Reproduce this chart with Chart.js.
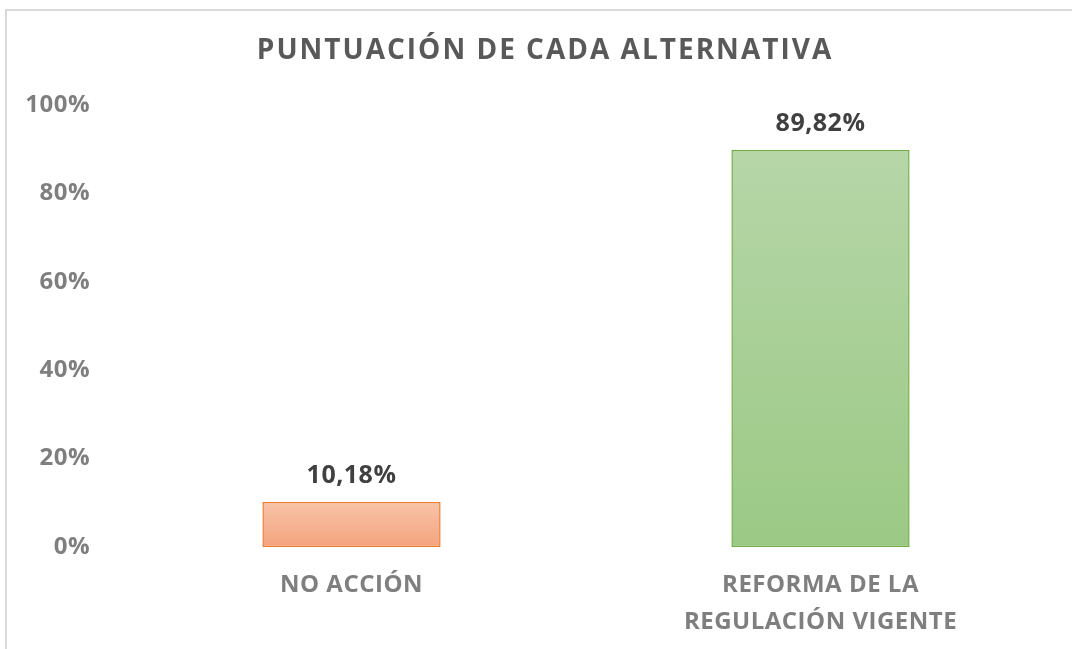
<!DOCTYPE html>
<html>
<head>
<meta charset="utf-8">
<script src="https://cdn.jsdelivr.net/npm/chart.js@4/dist/chart.umd.min.js"></script>
<style>
  html, body { margin: 0; padding: 0; background: #fff; }
  #wrap { position: relative; width: 1072px; height: 649px; overflow: hidden; }
  #frame { position: absolute; left: 5px; top: 9px; width: 1100px; height: 700px;
           border-left: 2px solid #d9d9d9; border-top: 2px solid #d9d9d9; }
  canvas { position: absolute; left: 0; top: 0; }
</style>
</head>
<body>
<div id="wrap">
  <div id="frame"></div>
  <canvas id="scoreChart" width="1072" height="649"></canvas>
</div>
<script>
'use strict';

// --- datos ---
const CATEGORIES = [['NO ACCIÓN'], ['REFORMA DE LA', 'REGULACIÓN VIGENTE']];
const SCORES = [10.18, 89.82];
const Y_TICKS = [0, 20, 40, 60, 80, 100];
const TITLE = 'PUNTUACIÓN DE CADA ALTERNATIVA';

// colores de las barras (arriba -> abajo)
const TOP_COLORS = ['#f8c3a8', '#b6d6a8'];
const BOTTOM_COLORS = ['#f4a47e', '#9bc985'];
const BORDER_COLORS = ['#ed7d31', '#70ad47'];

const FONT = "'Open Sans', 'Liberation Sans', sans-serif";

function barGradient(ctx) {
  const chart = ctx.chart;
  const i = ctx.dataIndex;
  if (!chart.chartArea) return BOTTOM_COLORS[i];
  const y = chart.scales.y;
  const top = y.getPixelForValue(SCORES[i]);
  const base = y.getPixelForValue(0);
  const g = chart.ctx.createLinearGradient(0, top, 0, base);
  g.addColorStop(0, TOP_COLORS[i]);
  g.addColorStop(1, BOTTOM_COLORS[i]);
  return g;
}

const fmtPct = v => v.toFixed(2).replace('.', ',') + '%';

// un poco de espaciado para acercarse al Calibri del original
const spacing = {
  id: 'spacing',
  beforeDraw(chart) { chart.ctx.letterSpacing = '0.5px'; },
};

// titulo centrado sobre el marco del grafico
const titlePlugin = {
  id: 'chartTitle',
  afterDraw(chart) {
    const c = chart.ctx;
    c.save();
    c.letterSpacing = '2px';
    c.font = 'bold 28px ' + FONT;
    c.fillStyle = '#595959';
    c.textAlign = 'center';
    c.textBaseline = 'middle';
    c.fillText(TITLE, 545, 51);
    c.restore();
  },
};

// etiquetas de valor encima de cada barra
const valueLabels = {
  id: 'valueLabels',
  afterDatasetsDraw(chart) {
    const c = chart.ctx;
    const meta = chart.getDatasetMeta(0);
    c.save();
    c.letterSpacing = '0.5px';
    c.font = 'bold 25px ' + FONT;
    c.fillStyle = '#404040';
    c.textAlign = 'center';
    c.textBaseline = 'middle';
    meta.data.forEach((bar, i) => {
      c.fillText(fmtPct(SCORES[i]), bar.x, bar.y - 26);
    });
    c.restore();
  },
};

new Chart(document.getElementById('scoreChart').getContext('2d'), {
  type: 'bar',
  data: {
    labels: CATEGORIES,
    datasets: [{
      data: SCORES,
      backgroundColor: barGradient,
      borderColor: BORDER_COLORS,
      borderWidth: 1.5,
      borderSkipped: false,
      categoryPercentage: 1,
      barPercentage: 0.38,
    }],
  },
  options: {
    responsive: false,
    animation: false,
    layout: { padding: { top: 105, right: 17, bottom: 0, left: 0 } },
    plugins: {
      legend: { display: false },
      title: { display: false },
      tooltip: { enabled: false },
    },
    scales: {
      x: {
        grid: { display: false, drawTicks: false },
        border: { display: false },
        ticks: {
          padding: 20,
          color: '#7f7f7f',
          font: { family: FONT, size: 24, weight: 'bold', lineHeight: 1.54 },
          maxRotation: 0,
        },
        afterFit: s => { s.height = 102; },
      },
      y: {
        min: 0,
        max: 100,
        afterBuildTicks: s => { s.ticks = Y_TICKS.map(v => ({ value: v })); },
        grid: { display: false, drawTicks: false },
        border: { display: false },
        ticks: {
          padding: 27,
          color: '#7f7f7f',
          font: { family: FONT, size: 24, weight: 'bold' },
          callback: v => v + '%',
        },
        afterFit: s => { s.width = 117; },
      },
    },
  },
  plugins: [spacing, titlePlugin, valueLabels],
});
</script>
</body>
</html>
